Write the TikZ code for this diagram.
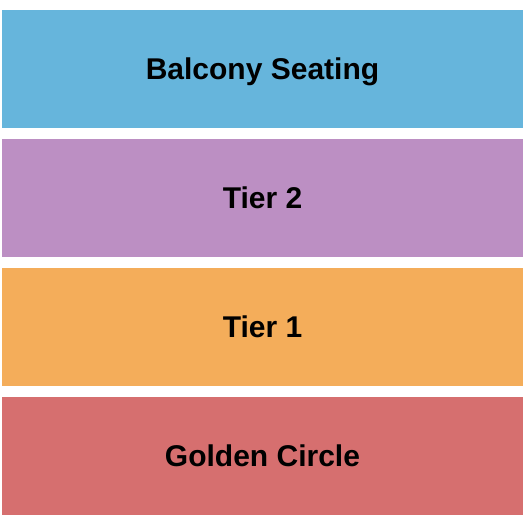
\documentclass[tikz,border=0pt]{standalone}
\usepackage{fontspec}
\setmainfont{Liberation Sans}
\definecolor{cbal}{HTML}{66B5DC}
\definecolor{ctwo}{HTML}{BC8FC3}
\definecolor{cone}{HTML}{F4AD5A}
\definecolor{cgold}{HTML}{D66F6F}
\tikzset{
  sect/.style={fill=#1, draw=none},
  lab/.style={font=\fontsize{30}{32}\selectfont\bfseries, text=black, inner sep=0pt, anchor=base}
}
\begin{document}
\begin{tikzpicture}[x=1pt,y=-1pt]
\useasboundingbox[fill=white] (0,0) rectangle (525,525);
\fill[sect=cbal] (2,10) rectangle (523,128);
\fill[sect=ctwo] (2,139) rectangle (523,257);
\fill[sect=cone] (2,268) rectangle (523,386);
\fill[sect=cgold] (2,397) rectangle (523,515);
\node[lab] (bal) at (262.5,79.5) {Balcony Seating};
\node[lab] (t2) at (262.5,208.5) {Tier 2};
\node[lab] (t1) at (262.5,337.5) {Tier 1};
\node[lab] (gc) at (262.5,466.5) {Golden Circle};
\end{tikzpicture}
\end{document}
